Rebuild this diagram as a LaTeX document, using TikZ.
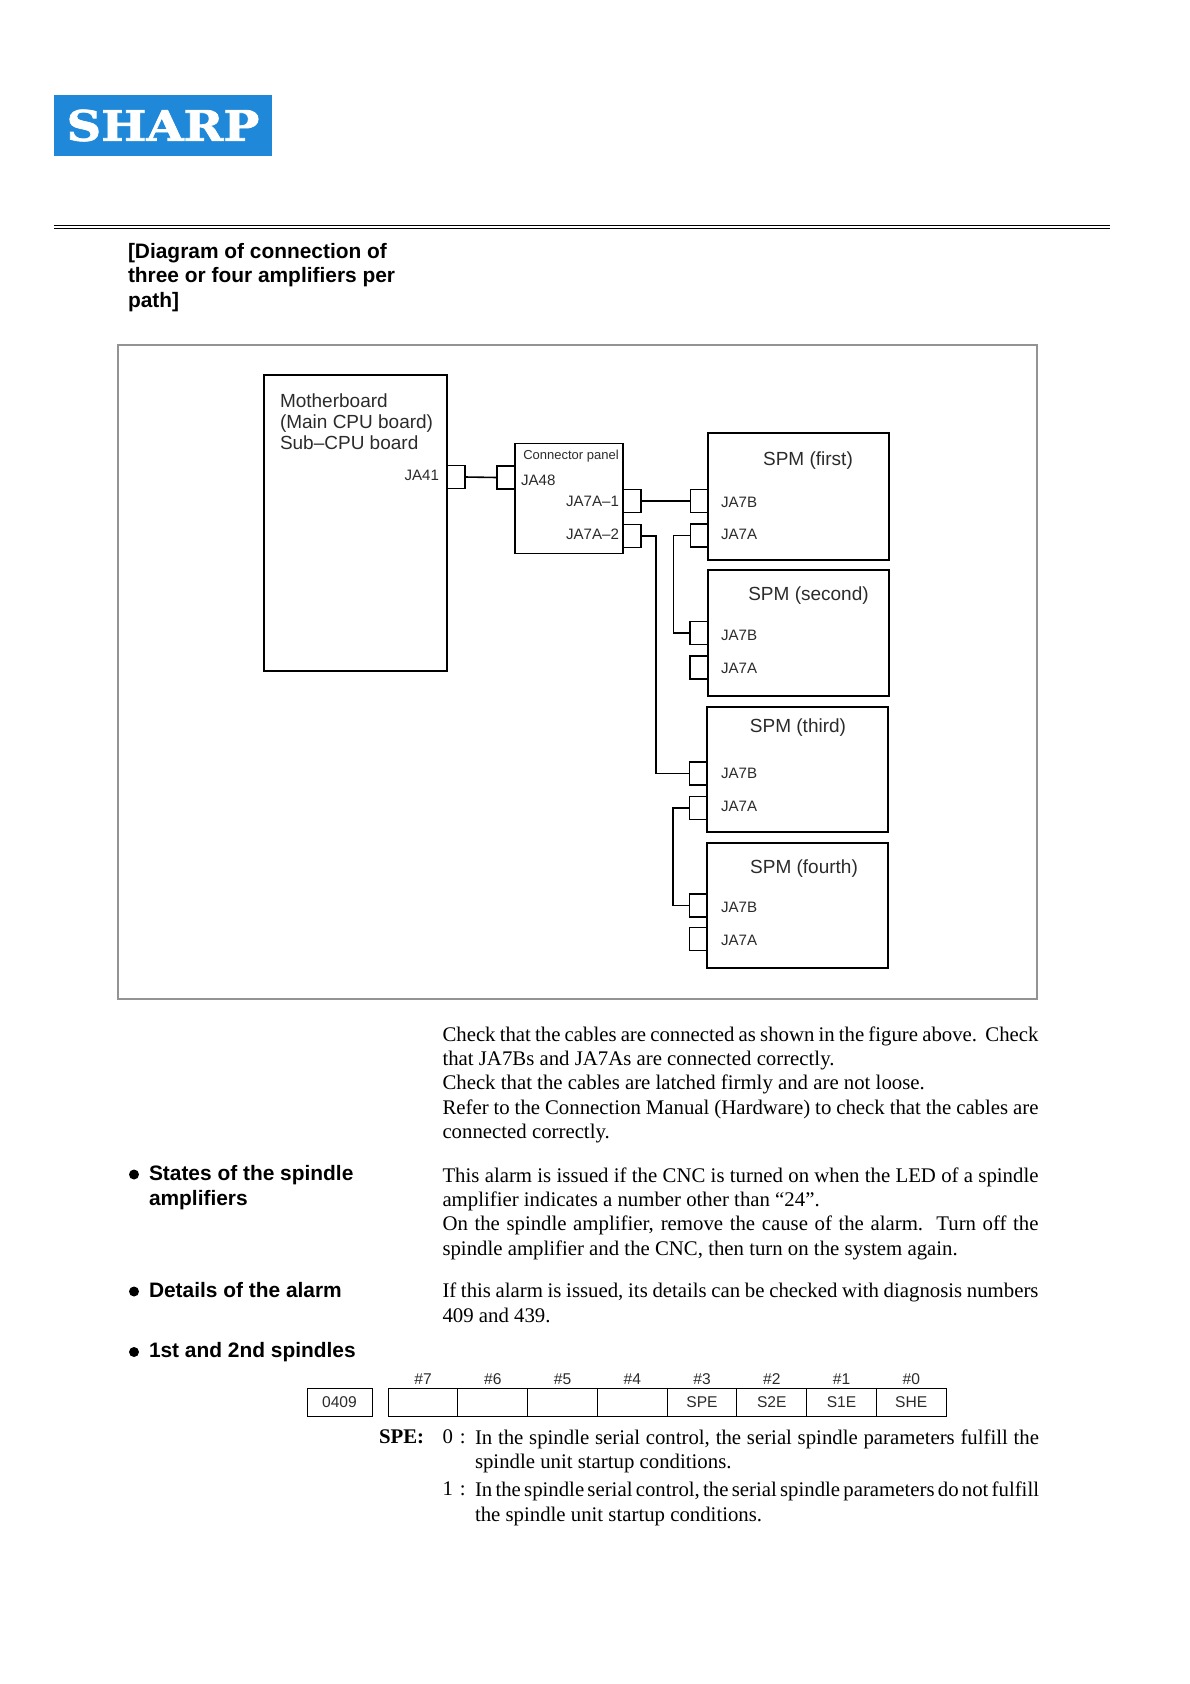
\documentclass[tikz,border=0pt]{standalone}
\usepackage{fontspec}
\setmainfont{Liberation Serif}
\setsansfont{Liberation Sans}
\newfontfamily\logofont[FakeStretch=1.14, FakeBold=1.8]{DejaVu Serif}
\definecolor{logoblue}{HTML}{1F88D8}
\definecolor{framegray}{HTML}{939393}
\definecolor{inkgray}{HTML}{2B2B2B}
\begin{document}
\begin{tikzpicture}[
    x=1pt, y=-1pt,
    every node/.style={inner sep=0pt, outer sep=0pt},
    unit/.style={rectangle, draw=black, line width=1.8pt, anchor=north west},
    port/.style={rectangle, draw=black, line width=1.8pt, minimum width=18pt, minimum height=23pt},
    wire/.style={line width=1.6pt},
    big/.style={font=\sffamily\fontsize{19}{21}\selectfont, text=inkgray},
    small/.style={font=\sffamily\fontsize{15.1}{17}\selectfont, text=inkgray},
    head/.style={font=\sffamily\bfseries\fontsize{20.9}{24.6}\selectfont, align=left, anchor=north west},
    para/.style={font=\fontsize{20.8}{24.4}\selectfont, text width=596pt, align=justify, anchor=north west},
    bitcell/.style={rectangle, draw=black, line width=1pt, minimum height=28pt, font=\sffamily\fontsize{15.6}{17}\selectfont, text=inkgray},
    bitlabel/.style={font=\sffamily\fontsize{15.6}{17}\selectfont, text=inkgray}
]
  \useasboundingbox (0,0) rectangle (1190,1684);

  %--- page head ---
  \node[fill=logoblue, minimum width=218pt, minimum height=61pt, text=white, font=\logofont\bfseries\fontsize{42}{45}\selectfont] (logo) at (163,125.5) {\raisebox{-2pt}{SHARP}};
  \draw[line width=1.3pt] (54,225.5) -- (1110,225.5);
  \draw[line width=1.3pt] (54,228.8) -- (1110,228.8);
  \node[head] (title) at (128,243) {[Diagram of connection of\\three or four amplifiers per\\path]};

  %--- frame ---
  \node[rectangle, draw=framegray, line width=2pt, minimum width=919pt, minimum height=654pt, anchor=north west] (frame) at (118,345) {};

  %--- boards ---
  \node[unit, minimum width=183pt, minimum height=296pt] (mainboard) at (264,375) {};
  \node[big, align=left, anchor=north west, font=\sffamily\fontsize{19}{21.1}\selectfont] (mainlabel) at (280,394) {Motherboard\\(Main CPU board)\\Sub--CPU board};
  \node[unit, minimum width=108pt, minimum height=110pt] (panel) at (515,443.5) {};
  \node[small, font=\sffamily\fontsize{13}{15}\selectfont] (panellabel) at (571,456.5) {Connector panel};

  %--- amplifiers ---
  \node[unit, minimum width=181pt, minimum height=127pt] (spmA) at (708,433) {};
  \node[unit, minimum width=181pt, minimum height=126pt] (spmB) at (708,570) {};
  \node[unit, minimum width=181pt, minimum height=125pt] (spmC) at (707,707) {};
  \node[unit, minimum width=181pt, minimum height=125pt] (spmD) at (707,843) {};
  \node[big] (spmAlabel) at (808,461) {SPM (first)};
  \node[big] (spmBlabel) at (808.5,596) {SPM (second)};
  \node[big] (spmClabel) at (798,728) {SPM (third)};
  \node[big] (spmDlabel) at (804,869) {SPM (fourth)};

  %--- ports ---
  \node[port] (ja41) at (456,477) {};
  \node[port] (ja48) at (506,477.5) {};
  \node[port] (ja7a1) at (632,501) {};
  \node[port] (ja7a2) at (632,536) {};
  \node[port] (spmAb) at (699.5,501) {};
  \node[port] (spmAa) at (699.5,535.5) {};
  \node[port] (spmBb) at (699,633) {};
  \node[port] (spmBa) at (699,667.5) {};
  \node[port] (spmCb) at (698.5,773.5) {};
  \node[port] (spmCa) at (698.5,808) {};
  \node[port] (spmDb) at (698.5,905.5) {};
  \node[port] (spmDa) at (698.5,939) {};

  %--- port labels ---
  \node[small, anchor=east] (ja41label) at (439,475.5) {JA41};
  \node[small, anchor=west] (ja48label) at (521,480) {JA48};
  \node[small, anchor=east] (ja7a1label) at (619,501) {JA7A--1};
  \node[small, anchor=east] (ja7a2label) at (619,534) {JA7A--2};
  \node[small, anchor=west] (spmAblabel) at (721,502) {JA7B};
  \node[small, anchor=west] (spmAalabel) at (721,534) {JA7A};
  \node[small, anchor=west] (spmBblabel) at (721,635) {JA7B};
  \node[small, anchor=west] (spmBalabel) at (721,668) {JA7A};
  \node[small, anchor=west] (spmCblabel) at (721,773) {JA7B};
  \node[small, anchor=west] (spmCalabel) at (721,806.5) {JA7A};
  \node[small, anchor=west] (spmDblabel) at (721,907.5) {JA7B};
  \node[small, anchor=west] (spmDalabel) at (721,940) {JA7A};

  %--- wires ---
  \coordinate (busA) at (656,773.5);
  \coordinate (busB) at (673.5,633);
  \coordinate (busC) at (673,905.5);
  \draw[wire] (ja41.east) -- (ja48.west);
  \draw[wire] (ja7a1.east) -- (spmAb.west);
  \draw[wire] (ja7a2.east) -| (busA) -- (spmCb.west);
  \draw[wire] (spmAa.west) -| (busB) -- (spmBb.west);
  \draw[wire] (spmCa.west) -| (busC) -- (spmDb.west);

  %--- text below the frame ---
  \node[para] (check) at (442.5,1026.5) {Check that the cables are connected as shown in the figure above.\ \ Check\linebreak that JA7Bs and JA7As are connected correctly.\\Check that the cables are latched firmly and are not loose.\\Refer to the Connection Manual (Hardware) to check that the cables are\linebreak connected correctly.};
  \node[head] (states) at (149,1165.5) {States of the spindle\\amplifiers};
  \node[para] (statestext) at (442.5,1167.5) {This alarm is issued if the CNC is turned on when the LED of a spindle\linebreak amplifier indicates a number other than ``24''.\\On the spindle amplifier, remove the cause of the alarm.\ \ Turn off the\linebreak spindle amplifier and the CNC, then turn on the system again.};
  \node[head] (details) at (149,1282) {Details of the alarm};
  \node[para] (detailstext) at (442.5,1283) {If this alarm is issued, its details can be checked with diagnosis numbers\linebreak 409 and 439.};
  \node[head] (spindles) at (149,1342.5) {1st and 2nd spindles};
  \fill (134,1174.5) circle (5pt);
  \fill (134,1291.5) circle (5pt);
  \fill (134,1352) circle (5pt);

  %--- bit table ---
  \node[bitcell, minimum width=65pt] (number) at (339.5,1402) {0409};
  \node[bitcell, minimum width=69.75pt] (bitseven) at (423,1402) {};
  \node[bitcell, minimum width=69.75pt] (bitsix) at (492.75,1402) {};
  \node[bitcell, minimum width=69.75pt] (bitfive) at (562.5,1402) {};
  \node[bitcell, minimum width=69.75pt] (bitfour) at (632.25,1402) {};
  \node[bitcell, minimum width=69.75pt] (bitthree) at (702,1402) {SPE};
  \node[bitcell, minimum width=69.75pt] (bittwo) at (771.75,1402) {S2E};
  \node[bitcell, minimum width=69.75pt] (bitone) at (841.5,1402) {S1E};
  \node[bitcell, minimum width=69.75pt] (bitzero) at (911.25,1402) {SHE};
  \node[bitlabel] (hashseven) at (423,1379) {\#7};
  \node[bitlabel] (hashsix) at (492.75,1379) {\#6};
  \node[bitlabel] (hashfive) at (562.5,1379) {\#5};
  \node[bitlabel] (hashfour) at (632.25,1379) {\#4};
  \node[bitlabel] (hashthree) at (702,1379) {\#3};
  \node[bitlabel] (hashtwo) at (771.75,1379) {\#2};
  \node[bitlabel] (hashone) at (841.5,1379) {\#1};
  \node[bitlabel] (hashzero) at (911.25,1379) {\#0};

  %--- bit meaning ---
  \node[font=\bfseries\fontsize{20.8}{24.4}\selectfont, anchor=north west] (spe) at (379,1430) {SPE:};
  \node[para, text width=30pt, align=left] (zero) at (442.5,1430) {0 :};
  \node[para, text width=30pt, align=left] (one) at (442.5,1482) {1 :};
  \node[para, text width=564pt] (zerotext) at (475,1429.5) {In the spindle serial control, the serial spindle parameters fulfill the\linebreak spindle unit startup conditions.};
  \node[para, text width=564pt] (onetext) at (475,1482) {\makebox[564pt][s]{\spaceskip=0.14em plus 0.3em In the spindle serial control, the serial spindle parameters do not fulfill}\\the spindle unit startup conditions.};
\end{tikzpicture}
\end{document}
